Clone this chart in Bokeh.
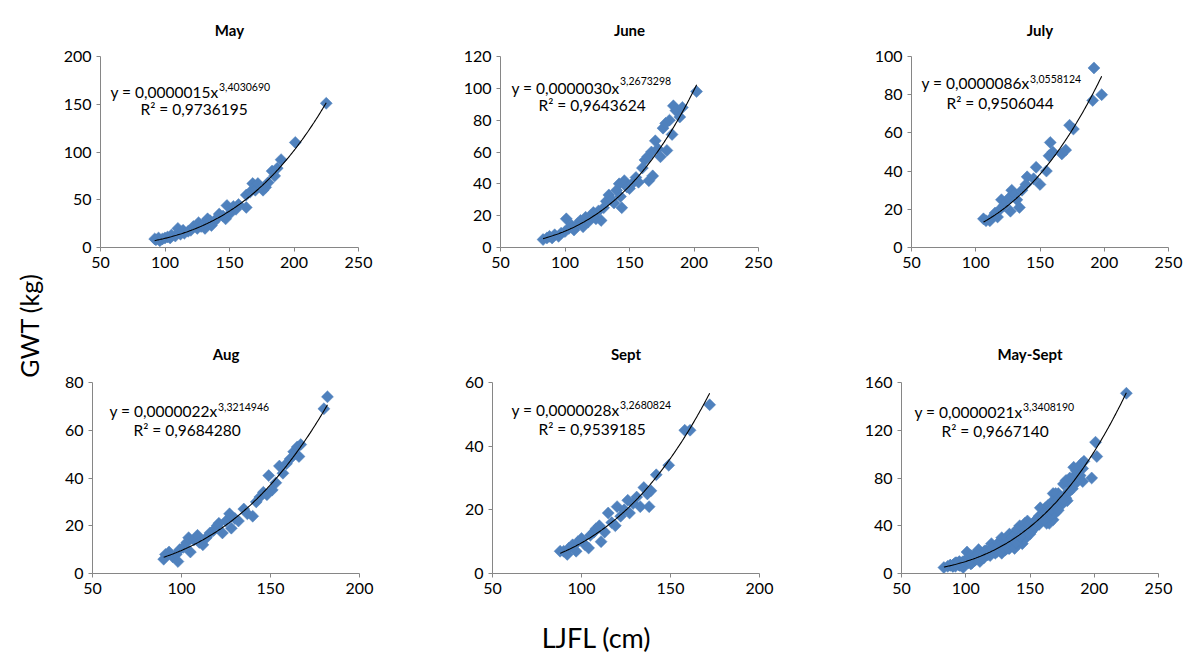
import numpy as np
from bokeh.plotting import figure
from bokeh.layouts import row, column
from bokeh.models import Range1d, FixedTicker, Label, Title
from bokeh.embed import file_html
from bokeh.resources import INLINE

# ---------------- data ----------------
titles = ["May", "June", "July", "Aug", "Sept", "May-Sept"]
coef_a = [0.0000015, 0.0000030, 0.0000086, 0.0000022, 0.0000028, 0.0000021]
coef_b = [3.4030690, 3.2673298, 3.0558124, 3.3214946, 3.2680824, 3.3408190]
coef_labels = ["0,0000015", "0,0000030", "0,0000086", "0,0000022", "0,0000028", "0,0000021"]
exp_labels = ["3,4030690", "3,2673298", "3,0558124", "3,3214946", "3,2680824", "3,3408190"]
r2_labels = ["0,9736195", "0,9643624", "0,9506044", "0,9684280", "0,9539185", "0,9667140"]

may_x = [92, 93, 95, 96, 98, 100, 102, 104, 105, 108, 110, 112, 114, 115, 118, 120, 122, 125,
         126, 128, 130, 131, 133, 135, 136, 138, 140, 142, 145, 147, 148, 150, 153, 155, 157,
         163, 163, 166, 168, 170, 172, 176, 178, 180, 183, 185, 187, 190, 201, 225]
may_y = [9, 8, 10, 7, 9, 10, 11, 10, 13, 12, 20, 14, 18, 15, 17, 18, 22, 20,
         26, 22, 25, 20, 30, 28, 23, 27, 30, 35, 33, 30, 44, 35, 43, 40, 45,
         42, 55, 58, 67, 60, 67, 60, 63, 68, 80, 75, 83, 92, 110, 151]

june_x = [83, 86, 88, 90, 92, 95, 97, 100, 101, 103, 105, 107, 110, 112, 114, 116, 118, 120,
          122, 124, 126, 128, 130, 132, 134, 136, 138, 140, 142, 143, 144, 146, 148, 150, 152,
          155, 157, 160, 162, 164, 165, 167, 168, 170, 172, 174, 176, 178, 179, 181, 183, 184,
          186, 189, 191, 202]
june_y = [5, 6, 7, 6, 8, 7, 9, 10, 18, 12, 14, 11, 15, 17, 13, 19, 16, 20,
          22, 18, 23, 17, 25, 29, 33, 30, 28, 36, 40, 32, 25, 42, 38, 37, 40,
          44, 41, 50, 55, 57, 42, 60, 45, 67, 62, 57, 75, 78, 61, 80, 71, 89,
          86, 82, 88, 98]

july_x = [106, 108, 111, 113, 115, 117, 119, 120, 122, 124, 126, 127, 128, 130, 132, 134, 136,
          139, 140, 145, 147, 150, 155, 157, 158, 160, 167, 170, 173, 176, 191, 192, 198]
july_y = [15, 14, 14, 16, 18, 16, 20, 25, 22, 24, 26, 19, 30, 28, 25, 21, 30,
          33, 37, 36, 42, 33, 40, 48, 55, 50, 49, 51, 64, 62, 77, 94, 80]

aug_x = [90, 91, 93, 95, 97, 98, 99, 101, 103, 104, 105, 107, 109, 110, 112, 114, 116, 118,
         120, 121, 123, 125, 127, 128, 130, 132, 135, 137, 140, 142, 144, 146, 148, 149, 151,
         153, 155, 157, 159, 161, 163, 165, 166, 167, 180, 182]
aug_y = [6, 8, 9, 7, 8, 5, 10, 11, 13, 15, 9, 14, 16, 13, 12, 15, 17, 18,
         20, 21, 17, 22, 25, 19, 23, 22, 27, 25, 24, 30, 32, 34, 33, 41, 35,
         38, 45, 42, 46, 48, 51, 53, 49, 54, 69, 74]

sept_x = [88, 90, 92, 93, 95, 97, 98, 100, 102, 104, 105, 107, 108, 110, 111, 113, 115, 117,
          119, 120, 122, 124, 126, 127, 129, 131, 133, 135, 137, 138, 139, 142, 149, 158, 161, 172]
sept_y = [7, 7, 6, 8, 9, 7, 10, 11, 9, 8, 12, 13, 14, 15, 10, 13, 19, 16,
          15, 21, 18, 20, 23, 19, 22, 24, 21, 27, 25, 21, 26, 31, 34, 45, 45, 53]

# May-Sept panel = all months pooled
all_x = may_x + june_x + july_x + aug_x + sept_x
all_y = may_y + june_y + july_y + aug_y + sept_y

xs = [may_x, june_x, july_x, aug_x, sept_x, all_x]
ys = [may_y, june_y, july_y, aug_y, sept_y, all_y]

x_ticks = [[50, 100, 150, 200, 250]] * 3 + [[50, 100, 150, 200], [50, 100, 150, 200], [50, 100, 150, 200, 250]]
y_ticks = [[0, 50, 100, 150, 200], [0, 20, 40, 60, 80, 100, 120], [0, 20, 40, 60, 80, 100],
           [0, 20, 40, 60, 80], [0, 20, 40, 60], [0, 40, 80, 120, 160]]

# ---------------- layout / style ----------------
FONT = "Lato"
MARK = "#4F81BD"
AX = "#868686"
TXT = "#000000"

# width, height, left, right, top, bottom borders
geo = [
    (370, 308, 50, 62, 56, 61),
    (400, 308, 80, 62, 56, 61),
    (364, 308, 91, 16, 56, 61),
    (370, 300, 42, 61, 74, 35),
    (400, 300, 72, 61, 74, 35),
    (364, 300, 81, 26, 74, 35),
]
# title horizontal offset from frame centre, standoff above frame
title_off = [(-11, 36), (-11, 36), (-11, 36), (-6, 39), (-6, 39), (-10, 39)]
# superscript start x, sup centre dy, main centre dy, R2 start x, R2 centre dy
eq_off = [
    (118, 30, 35, 40, 52),
    (119, 24, 31, 38, 48),
    (118, 22, 26, 35, 46),
    (125, 24, 28, 41, 47),
    (127, 22, 27, 46, 46),
    (121, 24, 29, 40, 48),
]

figs = []
for i in range(6):
    w, h, bl, br, bt, bb = geo[i]
    x0, x1 = x_ticks[i][0], x_ticks[i][-1]
    y0, y1 = y_ticks[i][0], y_ticks[i][-1]
    p = figure(width=w, height=h, x_range=Range1d(x0, x1), y_range=Range1d(y0, y1),
               toolbar_location=None, output_backend="svg",
               min_border_left=bl, min_border_right=br, min_border_top=bt, min_border_bottom=bb)
    p.grid.visible = False
    p.outline_line_color = None
    p.background_fill_color = "white"
    p.border_fill_color = "white"
    p.xaxis.ticker = FixedTicker(ticks=x_ticks[i])
    p.yaxis.ticker = FixedTicker(ticks=y_ticks[i])
    for ax in (p.xaxis, p.yaxis):
        ax.axis_line_color = AX
        ax.major_tick_line_color = AX
        ax.major_tick_in = 0
        ax.major_tick_out = 4
        ax.minor_tick_line_color = None
        ax.major_label_text_font = FONT
        ax.major_label_text_font_size = "16px"
        ax.major_label_text_color = TXT
        ax.major_label_standoff = 5

    tdx, tstand = title_off[i]
    p.title = Title(text=titles[i], align="center", offset=tdx, standoff=tstand,
                    text_font=FONT, text_font_style="bold", text_font_size="15px",
                    text_color=TXT)

    p.scatter(xs[i], ys[i], marker="square", size=8.5, angle=np.pi / 4,
              fill_color=MARK, line_color=MARK, line_width=0.5)

    cx = np.linspace(min(xs[i]), max(xs[i]), 200)
    cy = coef_a[i] * cx ** coef_b[i]
    p.line(cx, cy, line_color="black", line_width=1.1)

    sx, sdy, mdy, rx, rdy = eq_off[i]
    p.add_layout(Label(x=x0, y=y1, x_offset=sx, y_offset=-mdy, text="y = " + coef_labels[i] + "x",
                       text_font=FONT, text_font_size="15.5px", text_align="right",
                       text_baseline="middle", text_color=TXT))
    p.add_layout(Label(x=x0, y=y1, x_offset=sx + 0.5, y_offset=-sdy, text=exp_labels[i],
                       text_font=FONT, text_font_size="10.5px", text_align="left",
                       text_baseline="middle", text_color=TXT))
    p.add_layout(Label(x=x0, y=y1, x_offset=rx, y_offset=-rdy, text="R² = " + r2_labels[i],
                       text_font=FONT, text_font_size="15.5px", text_align="left",
                       text_baseline="middle", text_color=TXT))
    figs.append(p)


def blank(w, h):
    q = figure(width=w, height=h, x_range=Range1d(0, w), y_range=Range1d(0, h),
               x_axis_type=None, y_axis_type=None, toolbar_location=None,
               output_backend="svg", min_border=0)
    q.grid.visible = False
    q.outline_line_color = None
    return q


ylab = blank(50, 658)
ylab.add_layout(Label(x=28, y=333, text="GWT (kg)", angle=np.pi / 2, text_font=FONT,
                      text_font_size="25px", text_align="center", text_baseline="middle",
                      text_color=TXT))
xlab = blank(1134, 50)
xlab.add_layout(Label(x=546, y=21, text="LJFL (cm)", text_font=FONT,
                      text_font_size="27px", text_align="center", text_baseline="middle",
                      text_color=TXT))

layout = row(ylab, column(row(*figs[:3]), row(*figs[3:]), xlab))

open("out.html", "w").write(file_html(layout, INLINE))
